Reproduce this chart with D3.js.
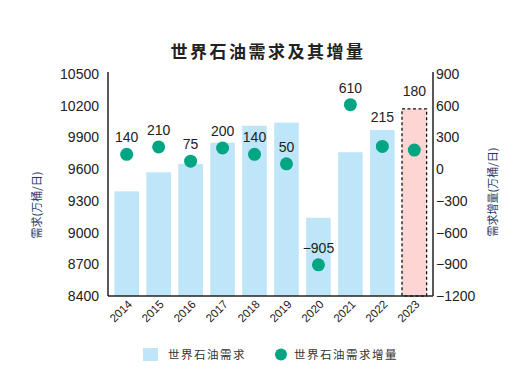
<!DOCTYPE html>
<html>
<head>
<meta charset="utf-8">
<script src="https://cdn.jsdelivr.net/npm/d3@7"></script>
<style>
  body { margin: 0; background: #fff; }
  text { font-family: "Liberation Sans", Arial, sans-serif; }
  .cjk { font-family: "Noto Sans CJK SC", sans-serif; }
</style>
</head>
<body>
<div id="chart"></div>
<script>
// data
var years = ["2014", "2015", "2016", "2017", "2018", "2019", "2020", "2021", "2022", "2023"];
var demand = [9390, 9570, 9650, 9850, 10010, 10040, 9140, 9760, 9970, 10170];
var growth = [140, 210, 75, 200, 140, 50, -905, 610, 215, 180];
var leftTicks = [8400, 8700, 9000, 9300, 9600, 9900, 10200, 10500];
var rightTicks = [-1200, -900, -600, -300, 0, 300, 600, 900];
// years whose value label sits over the bar instead of over the dot
var labelOnBar = ["2022", "2023"];

var width = 520, height = 386;
var margin = {top: 74, right: 87, bottom: 90, left: 108};

var svg = d3.select("#chart").append("svg")
  .attr("width", width)
  .attr("height", height);

var x = d3.scaleBand()
  .domain(years)
  .range([margin.left, width - margin.right])
  .paddingInner(0.23)
  .paddingOuter(0.2);

var yLeft = d3.scaleLinear()
  .domain([8400, 10500])
  .range([height - margin.bottom, margin.top]);

var yRight = d3.scaleLinear()
  .domain([-1200, 900])
  .range([height - margin.bottom, margin.top]);

// title
svg.append("text")
  .attr("class", "cjk")
  .attr("x", 268)
  .attr("y", 58)
  .attr("text-anchor", "middle")
  .style("font-size", "17px")
  .style("font-weight", "bold")
  .style("letter-spacing", "2.5px")
  .style("fill", "#222")
  .text("世界石油需求及其增量");

// bars
svg.append("g")
  .selectAll("rect")
  .data(years.slice(0, -1))
  .enter()
  .append("rect")
    .attr("x", function(d) { return x(d); })
    .attr("y", function(d, i) { return yLeft(demand[i]); })
    .attr("width", x.bandwidth())
    .attr("height", function(d, i) { return yLeft(8400) - yLeft(demand[i]); })
    .style("fill", "#bfe6f8");

// forecast bar, dashed
var last = years.length - 1;
svg.append("rect")
  .attr("x", x(years[last]))
  .attr("y", yLeft(demand[last]))
  .attr("width", x.bandwidth())
  .attr("height", yLeft(8400) - yLeft(demand[last]))
  .style("fill", "#fdd6d3")
  .style("stroke", "#111")
  .style("stroke-width", 1.3)
  .style("stroke-dasharray", "3,2.5");

// axes lines
var axisColor = "#222";
svg.append("line")
  .attr("x1", margin.left).attr("x2", margin.left)
  .attr("y1", margin.top - 2).attr("y2", yLeft(8400))
  .attr("stroke", axisColor).attr("stroke-width", 1.5);
svg.append("line")
  .attr("x1", width - margin.right).attr("x2", width - margin.right)
  .attr("y1", margin.top - 2).attr("y2", yLeft(8400))
  .attr("stroke", axisColor).attr("stroke-width", 1.5);
svg.append("line")
  .attr("x1", margin.left).attr("x2", width - margin.right)
  .attr("y1", yLeft(8400)).attr("y2", yLeft(8400))
  .attr("stroke", axisColor).attr("stroke-width", 1.5);

// tick labels
svg.append("g")
  .selectAll("text")
  .data(leftTicks)
  .enter()
  .append("text")
    .attr("x", margin.left - 9)
    .attr("y", function(d) { return yLeft(d); })
    .attr("dy", "0.36em")
    .attr("text-anchor", "end")
    .style("font-size", "14px")
    .style("fill", "#222")
    .text(function(d) { return d; });

svg.append("g")
  .selectAll("text")
  .data(rightTicks)
  .enter()
  .append("text")
    .attr("x", width - margin.right + 3)
    .attr("y", function(d) { return yRight(d); })
    .attr("dy", "0.36em")
    .style("font-size", "14px")
    .style("fill", "#222")
    .text(function(d) { return d < 0 ? "\u2212" + Math.abs(d) : d; });

svg.append("g")
  .selectAll("text")
  .data(years)
  .enter()
  .append("text")
    .attr("transform", function(d) {
      return "translate(" + (x(d) + x.bandwidth() / 2 + 6) + "," + (yLeft(8400) + 9) + ") rotate(-45)";
    })
    .attr("text-anchor", "end")
    .style("font-size", "11.5px")
    .style("fill", "#222")
    .text(function(d) { return d; });

// axis titles
svg.append("text")
  .attr("class", "cjk")
  .attr("transform", "translate(41,205) rotate(-90)")
  .attr("text-anchor", "middle")
  .style("font-size", "11px")
  .style("fill", "#1f3a64")
  .text("需求(万桶/日)");

svg.append("text")
  .attr("class", "cjk")
  .attr("transform", "translate(497,192) rotate(-90)")
  .attr("text-anchor", "middle")
  .style("font-size", "11px")
  .style("fill", "#1f3a64")
  .text("需求增量(万桶/日)");

// growth dots
svg.append("g")
  .selectAll("circle")
  .data(growth)
  .enter()
  .append("circle")
    .attr("cx", function(d, i) { return x(years[i]) + x.bandwidth() / 2; })
    .attr("cy", function(d) { return yRight(d); })
    .attr("r", 6.5)
    .style("fill", "#00a683");

// value labels
svg.append("g")
  .selectAll("text")
  .data(growth)
  .enter()
  .append("text")
    .attr("x", function(d, i) { return x(years[i]) + x.bandwidth() / 2; })
    .attr("y", function(d, i) {
      if (labelOnBar.indexOf(years[i]) >= 0) {
        return yLeft(demand[i]) - (i === last ? 13 : 8);
      }
      return yRight(d) - 12;
    })
    .attr("text-anchor", "middle")
    .style("font-size", "14px")
    .style("fill", "#222")
    .text(function(d) { return d < 0 ? "\u2212" + Math.abs(d) : d; });

// legend
var legend = svg.append("g");
legend.append("rect")
  .attr("x", 143).attr("y", 348)
  .attr("width", 15).attr("height", 13)
  .style("fill", "#bfe6f8");
legend.append("text")
  .attr("class", "cjk")
  .attr("x", 168).attr("y", 359)
  .style("font-size", "11.5px")
  .style("letter-spacing", "1.5px")
  .style("fill", "#333")
  .text("世界石油需求");
legend.append("circle")
  .attr("cx", 281).attr("cy", 354.5)
  .attr("r", 6)
  .style("fill", "#00a683");
legend.append("text")
  .attr("class", "cjk")
  .attr("x", 294).attr("y", 359)
  .style("font-size", "11.5px")
  .style("letter-spacing", "1.5px")
  .style("fill", "#333")
  .text("世界石油需求增量");
</script>
</body>
</html>
